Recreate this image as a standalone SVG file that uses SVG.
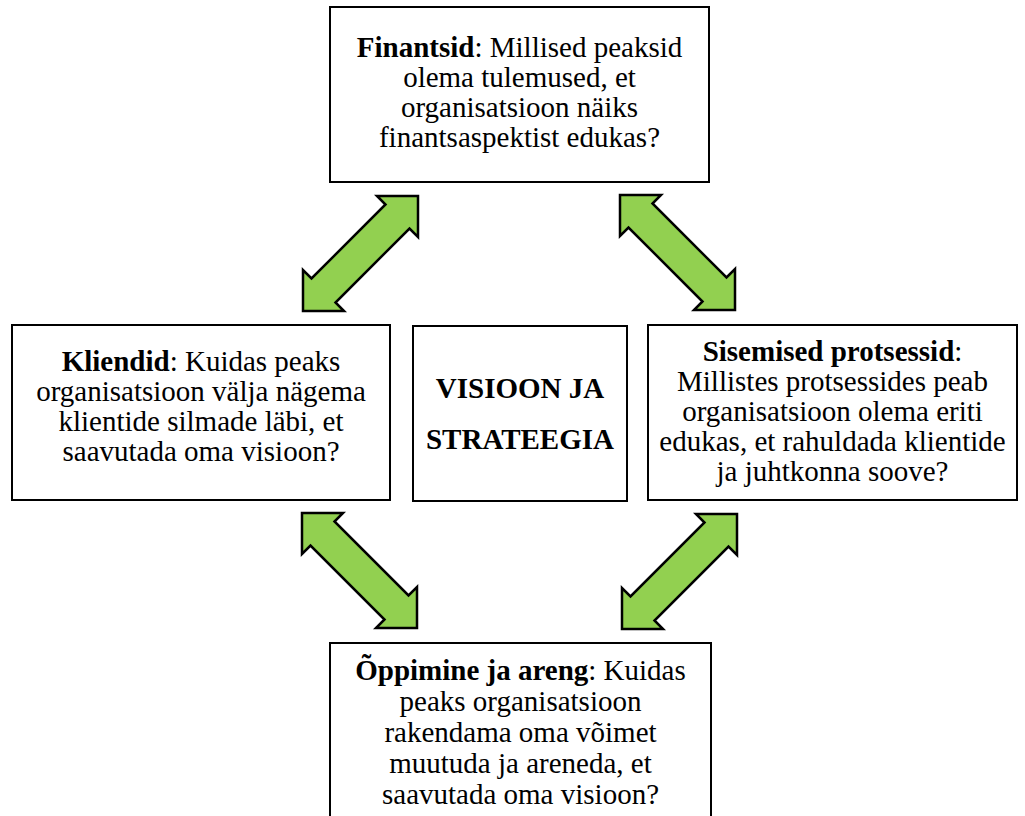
<svg xmlns="http://www.w3.org/2000/svg" width="1025" height="816" viewBox="0 0 1025 816">
<style>
.box{fill:#fff;stroke:#000;stroke-width:2}
.t{font-family:'Liberation Serif',serif;font-size:29px;fill:#000;text-anchor:middle}
.b{font-weight:bold}
.arr{fill:#92D050;stroke:#000;stroke-width:2.5;stroke-linejoin:miter}
</style>
<defs>
<polygon id="dbl" points="0,0 -41,0 -32.5,8.5 -106.5,82.5 -115,74 -115,115 -74,115 -82.5,106.5 -8.5,32.5 0,41"/>
</defs>
<rect width="1025" height="816" fill="#fff"/>
<g id="connectors">
<use href="#dbl" class="arr" transform="translate(418,196)"/>
<use href="#dbl" class="arr" transform="translate(620,195) scale(-1,1)"/>
<use href="#dbl" class="arr" transform="translate(302,513) scale(-1,1)"/>
<use href="#dbl" class="arr" transform="translate(737,514)"/>
</g>
<g id="finantsid">
<rect class="box" x="330" y="7" width="379" height="175"/>
<text class="t" x="519.5" y="57"><tspan class="b">Finantsid</tspan>: Millised peaksid</text>
<text class="t" x="519.5" y="87">olema tulemused, et</text>
<text class="t" x="519.5" y="117">organisatsioon näiks</text>
<text class="t" x="519.5" y="147">finantsaspektist edukas?</text>
</g>
<g id="kliendid">
<rect class="box" x="12" y="325" width="378" height="175"/>
<text class="t" x="201" y="371"><tspan class="b">Kliendid</tspan>: Kuidas peaks</text>
<text class="t" x="201" y="401">organisatsioon välja nägema</text>
<text class="t" x="201" y="431">klientide silmade läbi, et</text>
<text class="t" x="201" y="461">saavutada oma visioon?</text>
</g>
<g id="visioon">
<rect class="box" x="413" y="326" width="214" height="175"/>
<text class="t b" x="520" y="398">VISIOON JA</text>
<text class="t b" x="520" y="449">STRATEEGIA</text>
</g>
<g id="sisemised">
<rect class="box" x="648" y="325" width="369" height="175"/>
<text class="t" x="832.5" y="361"><tspan class="b">Sisemised protsessid</tspan>:</text>
<text class="t" x="832.5" y="391">Millistes protsessides peab</text>
<text class="t" x="832.5" y="421">organisatsioon olema eriti</text>
<text class="t" x="832.5" y="451">edukas, et rahuldada klientide</text>
<text class="t" x="832.5" y="481">ja juhtkonna soove?</text>
</g>
<g id="oppimine">
<rect class="box" x="330" y="643" width="381" height="190"/>
<text class="t" x="520.5" y="680"><tspan class="b">Õppimine ja areng</tspan>: Kuidas</text>
<text class="t" x="520.5" y="711">peaks organisatsioon</text>
<text class="t" x="520.5" y="742">rakendama oma võimet</text>
<text class="t" x="520.5" y="773">muutuda ja areneda, et</text>
<text class="t" x="520.5" y="804">saavutada oma visioon?</text>
</g>
</svg>
